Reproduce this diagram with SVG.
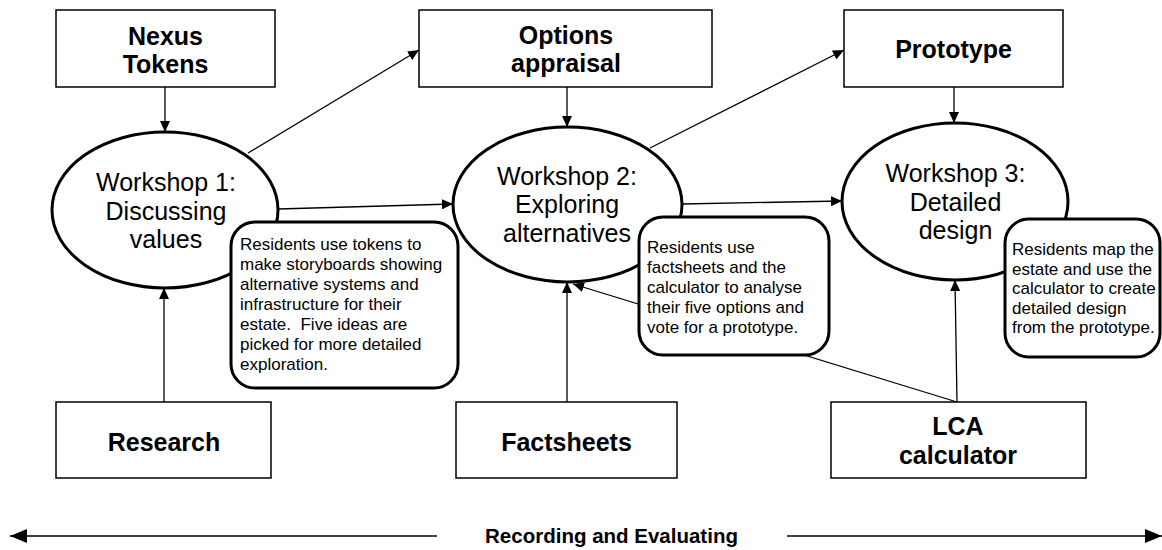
<svg xmlns="http://www.w3.org/2000/svg" width="1162" height="550" viewBox="0 0 1162 550">
<style>
.box{fill:#fff;stroke:#000;stroke-width:1.5}
.ell{fill:#fff;stroke:#000;stroke-width:3}
.bub{fill:#fff;stroke:#000;stroke-width:3}
.lbl{font-family:"Liberation Sans",Arial,sans-serif;font-weight:bold;font-size:25px;text-anchor:middle;fill:#000}
.ws{font-family:"Liberation Sans",Arial,sans-serif;font-size:25px;text-anchor:middle;fill:#000}
.bt{font-family:"Liberation Sans",Arial,sans-serif;font-size:17px;fill:#000}
.con{fill:none;stroke:#000;stroke-width:1.3}
</style>
<defs>
<marker id="ah" markerUnits="userSpaceOnUse" markerWidth="12" markerHeight="10" refX="11" refY="5" orient="auto">
<path d="M0,0 L11,5 L0,10 Z" fill="#000"/>
</marker>
<marker id="big" markerUnits="userSpaceOnUse" markerWidth="18" markerHeight="16" refX="17" refY="8" orient="auto-start-reverse">
<path d="M0,1 L17,8 L0,15 Z" fill="#000"/>
</marker>
</defs>

<g id="connectors">
<line class="con" x1="165" y1="87" x2="165" y2="132" marker-end="url(#ah)"/>
<line class="con" x1="567" y1="87" x2="567" y2="127" marker-end="url(#ah)"/>
<line class="con" x1="954" y1="87" x2="954" y2="123" marker-end="url(#ah)"/>
<line class="con" x1="248" y1="153" x2="419" y2="50" marker-end="url(#ah)"/>
<line class="con" x1="650" y1="148" x2="844" y2="50" marker-end="url(#ah)"/>
<line class="con" x1="278" y1="209" x2="453" y2="204" marker-end="url(#ah)"/>
<line class="con" x1="682" y1="204" x2="842" y2="201" marker-end="url(#ah)"/>
<line class="con" x1="164" y1="402" x2="164" y2="288" marker-end="url(#ah)"/>
<line class="con" x1="567" y1="402" x2="567" y2="282" marker-end="url(#ah)"/>
<line class="con" x1="957" y1="402" x2="955" y2="280" marker-end="url(#ah)"/>
<line class="con" x1="957" y1="402" x2="573" y2="284" marker-end="url(#ah)"/>
<line class="con" x1="437" y1="536" x2="10" y2="536" marker-end="url(#big)"/>
<line class="con" x1="787" y1="536" x2="1162" y2="536" marker-end="url(#big)"/>
</g>

<g id="nexus">
<rect class="box" x="56" y="10" width="219" height="77"/>
<text class="lbl" x="165.5" y="45">Nexus</text>
<text class="lbl" x="165.5" y="73">Tokens</text>
</g>
<g id="options">
<rect class="box" x="419" y="10" width="293" height="77"/>
<text class="lbl" x="566" y="44">Options</text>
<text class="lbl" x="566" y="72">appraisal</text>
</g>
<g id="prototype">
<rect class="box" x="844" y="10" width="219" height="77"/>
<text class="lbl" x="953.5" y="58">Prototype</text>
</g>

<g id="workshop1">
<ellipse class="ell" cx="165" cy="210" rx="113" ry="78"/>
<text class="ws" x="166" y="191">Workshop 1:</text>
<text class="ws" x="166" y="220">Discussing</text>
<text class="ws" x="166" y="248">values</text>
</g>
<g id="workshop2">
<ellipse class="ell" cx="567.5" cy="204.5" rx="114.5" ry="77.5"/>
<text class="ws" x="567" y="185">Workshop 2:</text>
<text class="ws" x="567" y="213">Exploring</text>
<text class="ws" x="567" y="242">alternatives</text>
</g>
<g id="workshop3">
<ellipse class="ell" cx="955" cy="201.5" rx="113" ry="78.5"/>
<text class="ws" x="955.5" y="182">Workshop 3:</text>
<text class="ws" x="955.5" y="211">Detailed</text>
<text class="ws" x="955.5" y="239">design</text>
</g>

<g id="note1">
<rect class="bub" x="231" y="222" width="227" height="166" rx="24" ry="24"/>
<text class="bt" x="240" y="250">Residents use tokens to</text>
<text class="bt" x="240" y="270">make storyboards showing</text>
<text class="bt" x="240" y="290">alternative systems and</text>
<text class="bt" x="240" y="310">infrastructure for their</text>
<text class="bt" x="240" y="330" xml:space="preserve">estate.  Five ideas are</text>
<text class="bt" x="240" y="350">picked for more detailed</text>
<text class="bt" x="240" y="370">exploration.</text>
</g>
<g id="note2">
<rect class="bub" x="639" y="217" width="190" height="138" rx="24" ry="24"/>
<text class="bt" x="647" y="253">Residents use</text>
<text class="bt" x="647" y="273">factsheets and the</text>
<text class="bt" x="647" y="293">calculator to analyse</text>
<text class="bt" x="647" y="313">their five options and</text>
<text class="bt" x="647" y="333">vote for a prototype.</text>
</g>
<g id="note3">
<rect class="bub" x="1005" y="219" width="155" height="138" rx="24" ry="24"/>
<text class="bt" x="1012" y="255">Residents map the</text>
<text class="bt" x="1012" y="274.5">estate and use the</text>
<text class="bt" x="1012" y="294">calculator to create</text>
<text class="bt" x="1012" y="313.5">detailed design</text>
<text class="bt" x="1012" y="333">from the prototype.</text>
</g>

<g id="research">
<rect class="box" x="56" y="402" width="215" height="76"/>
<text class="lbl" x="164" y="451">Research</text>
</g>
<g id="factsheets">
<rect class="box" x="456" y="402" width="221" height="76"/>
<text class="lbl" x="566.5" y="451">Factsheets</text>
</g>
<g id="lca">
<rect class="box" x="831" y="402" width="255" height="76"/>
<text class="lbl" x="958" y="435">LCA</text>
<text class="lbl" x="958" y="464">calculator</text>
</g>

<g id="recording">
<text class="lbl" x="611.5" y="543" style="font-size:20.5px">Recording and Evaluating</text>
</g>
</svg>
